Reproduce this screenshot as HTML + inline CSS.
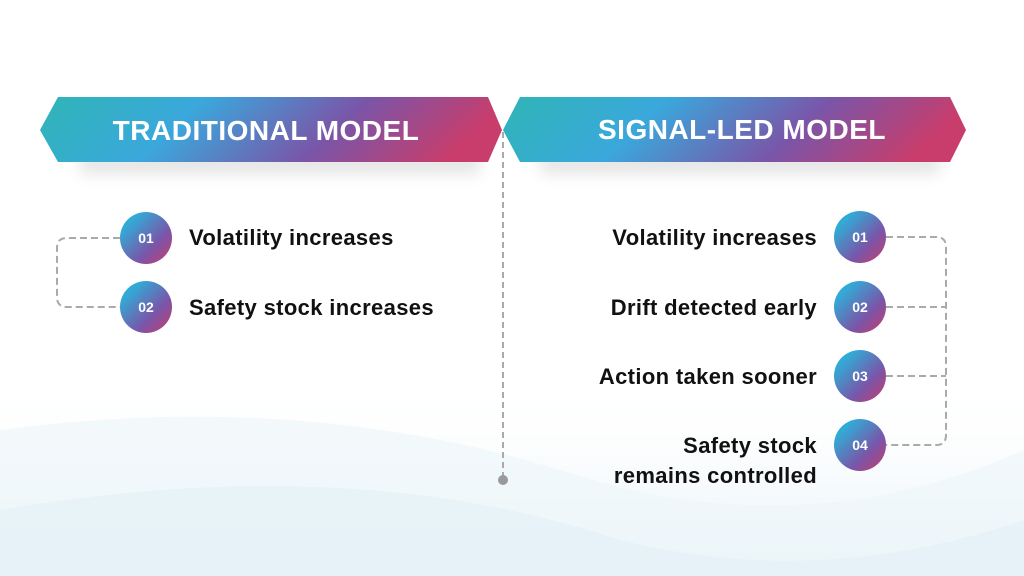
<!DOCTYPE html>
<html><head><style>
body{margin:0;width:1024px;height:576px;overflow:hidden;background:#fff;font-family:"Liberation Sans",sans-serif;}
.t{position:absolute;font-weight:bold;font-size:22px;letter-spacing:0.35px;color:#111;white-space:nowrap;}
.r{text-align:right;right:207px;}
</style></head><body>
<svg width="1024" height="576" style="position:absolute;left:0;top:0">
<defs>
<linearGradient id="g" x1="0" y1="0" x2="1" y2="0.15">
<stop offset="0" stop-color="#2fb5b5"/><stop offset="0.35" stop-color="#3aa8dc"/><stop offset="0.7" stop-color="#7a55a8"/><stop offset="1" stop-color="#c83d6c"/>
</linearGradient>
<linearGradient id="c" x1="0" y1="0" x2="1" y2="1">
<stop offset="0.2" stop-color="#33a9d6"/><stop offset="0.65" stop-color="#7a55a8"/><stop offset="1" stop-color="#c73d6e"/>
</linearGradient>
<linearGradient id="bg" x1="0" y1="0" x2="0" y2="1">
<stop offset="0" stop-color="#fff" stop-opacity="0"/><stop offset="1" stop-color="#e2f0f7"/>
</linearGradient>
<filter id="s" x="-10%" y="-50%" width="120%" height="250%"><feGaussianBlur stdDeviation="8"/></filter>
</defs>
<rect x="0" y="380" width="1024" height="196" fill="url(#bg)"/>
<path d="M0 430 Q300 390 560 470 Q800 550 1024 450 L1024 576 L0 576Z" fill="#eef6fa" opacity="0.7"/>
<path d="M0 510 Q350 450 620 540 Q820 590 1024 520 L1024 576 L0 576Z" fill="#e3f0f7" opacity="0.6"/>
<rect x="80" y="150" width="400" height="24" fill="#000" opacity="0.1" filter="url(#s)"/>
<rect x="540" y="150" width="400" height="24" fill="#000" opacity="0.1" filter="url(#s)"/>
<polygon points="40,130 58,97 488,97 502,130 488,162 58,162" fill="url(#g)"/>
<polygon points="503,130 520,97 950,97 966,130 950,162 520,162" fill="url(#g)"/>
<text x="266" y="140" text-anchor="middle" fill="#fff" font-weight="bold" font-size="28" letter-spacing="0.5" font-family="Liberation Sans,sans-serif">TRADITIONAL MODEL</text>
<text x="742" y="139" text-anchor="middle" fill="#fff" font-weight="bold" font-size="28" letter-spacing="0.5" font-family="Liberation Sans,sans-serif">SIGNAL-LED MODEL</text>
<line x1="503" y1="132" x2="503" y2="480" stroke="#aaa" stroke-width="2" stroke-dasharray="6,4"/>
<circle cx="503" cy="480" r="5" fill="#999"/>
<g fill="none" stroke="#aaa" stroke-width="2" stroke-dasharray="7,4">
<path d="M120 238 H67 Q57 238 57 248 V297 Q57 307 67 307 H120"/>
<path d="M886 237 H936 Q946 237 946 247 V435 Q946 445 936 445 H886"/>
<path d="M886 307 H946 M886 376 H946"/>
</g>
<g font-family="Liberation Sans,sans-serif" font-weight="bold" font-size="14" fill="#fff" text-anchor="middle">
<circle cx="146" cy="238" r="26" fill="url(#c)"/><text x="146" y="243">01</text>
<circle cx="146" cy="307" r="26" fill="url(#c)"/><text x="146" y="312">02</text>
<circle cx="860" cy="237" r="26" fill="url(#c)"/><text x="860" y="242">01</text>
<circle cx="860" cy="307" r="26" fill="url(#c)"/><text x="860" y="312">02</text>
<circle cx="860" cy="376" r="26" fill="url(#c)"/><text x="860" y="381">03</text>
<circle cx="860" cy="445" r="26" fill="url(#c)"/><text x="860" y="450">04</text>
</g>
</svg>
<div class="t" style="left:189px;top:225px">Volatility increases</div>
<div class="t" style="left:189px;top:295px">Safety stock increases</div>
<div class="t r" style="top:225px">Volatility increases</div>
<div class="t r" style="top:295px">Drift detected early</div>
<div class="t r" style="top:364px">Action taken sooner</div>
<div class="t r" style="top:431px;line-height:30px">Safety stock<br>remains controlled</div>
</body></html>
